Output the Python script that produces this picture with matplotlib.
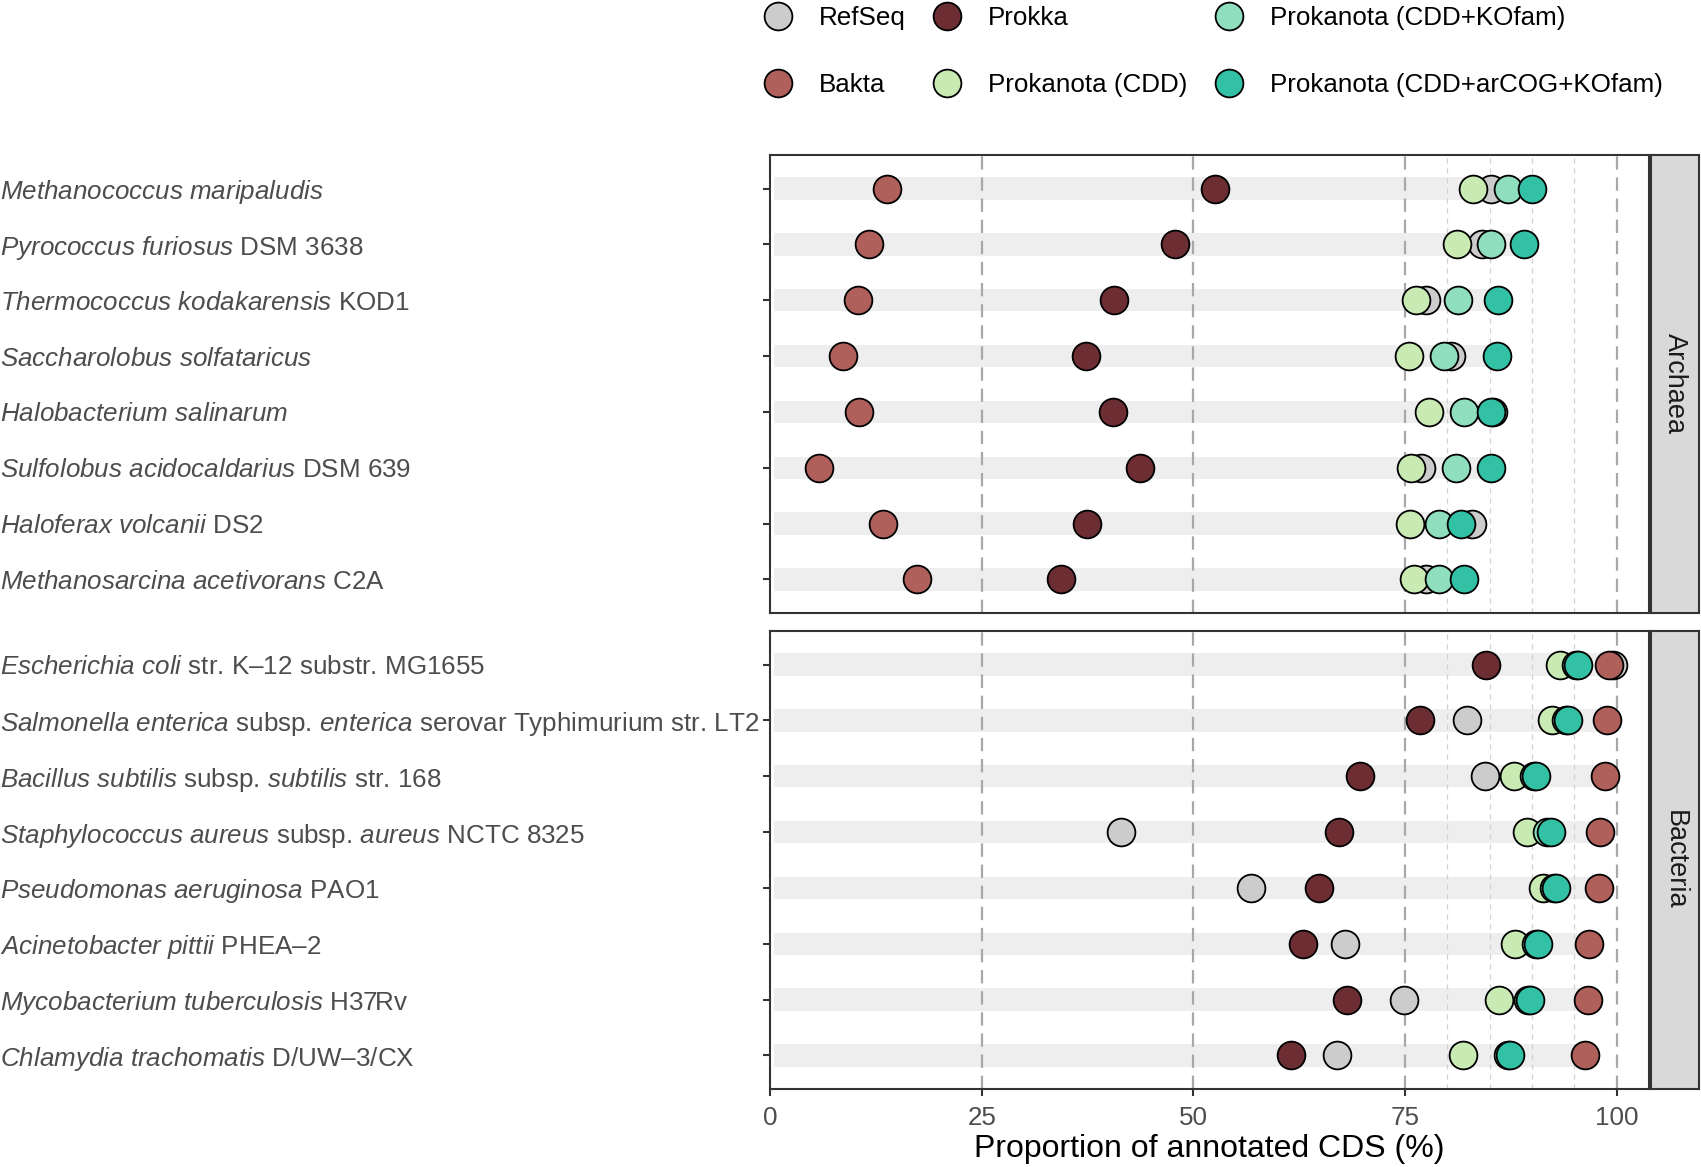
import matplotlib
matplotlib.use("Agg")
import matplotlib.pyplot as plt
from matplotlib.lines import Line2D
import numpy as np

plt.rcParams['font.family'] = ['Liberation Sans', 'DejaVu Sans']
plt.rcParams['mathtext.fontset'] = 'custom'
plt.rcParams['mathtext.rm'] = 'Liberation Sans'
plt.rcParams['mathtext.it'] = 'Liberation Sans:italic'

# Genomes (top to bottom)
archaea = [
    r"$\mathit{Methanococcus\ maripaludis}$",
    r"$\mathit{Pyrococcus\ furiosus}$ DSM 3638",
    r"$\mathit{Thermococcus\ kodakarensis}$ KOD1",
    r"$\mathit{Saccharolobus\ solfataricus}$",
    r"$\mathit{Halobacterium\ salinarum}$",
    r"$\mathit{Sulfolobus\ acidocaldarius}$ DSM 639",
    r"$\mathit{Haloferax\ volcanii}$ DS2",
    r"$\mathit{Methanosarcina\ acetivorans}$ C2A",
]
bacteria = [
    r"$\mathit{Escherichia\ coli}$ str. K–12 substr. MG1655",
    r"$\mathit{Salmonella\ enterica}$ subsp. $\mathit{enterica}$ serovar Typhimurium str. LT2",
    r"$\mathit{Bacillus\ subtilis}$ subsp. $\mathit{subtilis}$ str. 168",
    r"$\mathit{Staphylococcus\ aureus}$ subsp. $\mathit{aureus}$ NCTC 8325",
    r"$\mathit{Pseudomonas\ aeruginosa}$ PAO1",
    r"$\mathit{Acinetobacter\ pittii}$ PHEA–2",
    r"$\mathit{Mycobacterium\ tuberculosis}$ H37Rv",
    r"$\mathit{Chlamydia\ trachomatis}$ D/UW–3/CX",
]

# Proportion of annotated CDS (%)
refseq_a = [85.1, 84.1, 77.5, 80.4, 85.4, 76.9, 82.9, 77.5]
bakta_a = [13.8, 11.7, 10.4, 8.6, 10.5, 5.8, 13.3, 17.4]
prokka_a = [52.5, 47.8, 40.6, 37.3, 40.5, 43.7, 37.4, 34.4]
cdd_a = [83.0, 81.1, 76.3, 75.4, 77.8, 75.7, 75.6, 76.1]
kofam_a = [87.2, 85.2, 81.3, 79.6, 82.0, 81.0, 79.0, 79.0]
arcog_a = [90.0, 89.0, 86.0, 85.9, 85.2, 85.2, 81.6, 81.9]

refseq_b = [99.5, 82.3, 84.4, 41.5, 56.8, 67.9, 74.9, 67.0]
bakta_b = [99.1, 98.8, 98.6, 98.0, 97.9, 96.7, 96.6, 96.2]
prokka_b = [84.5, 76.7, 69.7, 67.2, 64.8, 63.0, 68.1, 61.5]
cdd_b = [93.3, 92.4, 87.9, 89.4, 91.3, 88.0, 86.1, 81.8]
kofam_b = [95.2, 94.0, 90.2, 91.7, 92.6, 90.4, 89.5, 87.1]
arcog_b = [95.4, 94.2, 90.4, 92.2, 92.8, 90.7, 89.8, 87.4]

tools = ["RefSeq", "Bakta", "Prokka", "Prokanota (CDD)",
         "Prokanota (CDD+KOfam)", "Prokanota (CDD+arCOG+KOfam)"]
colors = ["#CCCCCC", "#B0605A", "#6C2D33", "#C9EBB3", "#8FDFBF", "#33C1A6"]

W, H = 1701, 1167
FS = 18.7
fig = plt.figure(figsize=(W / 100, H / 100), dpi=100)

def frac(x0, y0, x1, y1):
    return [x0 / W, 1 - y1 / H, (x1 - x0) / W, (y1 - y0) / H]

panels = [
    ("Archaea", archaea, [refseq_a, bakta_a, prokka_a, cdd_a, kofam_a, arcog_a], 155, 613),
    ("Bacteria", bacteria, [refseq_b, bakta_b, prokka_b, cdd_b, kofam_b, arcog_b], 631, 1089),
]

for k, (name, labels, series, top, bot) in enumerate(panels):
    ax = fig.add_axes(frac(770, top, 1649, bot))
    n = len(labels)
    y = np.arange(n)
    ax.set_xlim(0, 103.8)
    ax.set_ylim(n - 0.4, -0.6)

    # background bands
    rowmax = np.max(np.array(series), axis=0)
    ax.barh(y, rowmax - 0.5, left=0.5, height=0.4, color="#EEEEEE", zorder=1)

    for v in [25, 50, 75, 100]:
        ax.axvline(v, color="#A8A8A8", lw=1.6, ls=(0, (6, 3.5)), zorder=2)
    for v in [80, 85, 90, 95]:
        ax.axvline(v, color="#D0D0D0", lw=0.9, ls=(0, (4, 4)), zorder=2)

    for i, (vals, c) in enumerate(zip(series, colors)):
        ax.scatter(vals, y, s=400, color=c, edgecolor="black", linewidth=1.3, zorder=3 + i)

    ax.set_yticks(y)
    ax.set_yticklabels(labels, ha="left", fontsize=FS, color="#4D4D4D")
    ax.tick_params(axis="y", length=5, width=1.5, color="#333333", pad=(770 - 2) * 0.72 - 3.6)
    ax.set_xticks([0, 25, 50, 75, 100])
    ax.tick_params(axis="x", length=5, width=1.5, color="#333333", labelsize=FS,
                   labelcolor="#4D4D4D", pad=7)
    if k == 0:
        ax.tick_params(axis="x", labelbottom=False, length=0)
    else:
        ax.set_xlabel("Proportion of annotated CDS (%)", fontsize=23, labelpad=3)
    for sp in ax.spines.values():
        sp.set_color("#333333")
        sp.set_linewidth(1.5)

    # facet strip
    sx = fig.add_axes(frac(1651, top, 1699, bot))
    sx.set_facecolor("#D9D9D9")
    sx.set_xticks([])
    sx.set_yticks([])
    for sp in sx.spines.values():
        sp.set_color("#333333")
        sp.set_linewidth(1.5)
    sx.text(0.5, 0.5, name, rotation=-90, ha="center", va="center",
            fontsize=19.5, color="#1A1A1A", transform=sx.transAxes)

handles = [Line2D([], [], ls="none", marker="o", markersize=20, markerfacecolor=c,
                  markeredgecolor="black", markeredgewidth=1.3) for c in colors]
fig.legend(handles, tools, loc="upper left", bbox_to_anchor=(749 / W, 1.008),
           ncol=3, frameon=False, fontsize=FS, handlelength=1.0,
           handletextpad=1.08, columnspacing=1.1, labelspacing=1.65, borderpad=0.1)

fig.savefig("out.png", dpi=100)
